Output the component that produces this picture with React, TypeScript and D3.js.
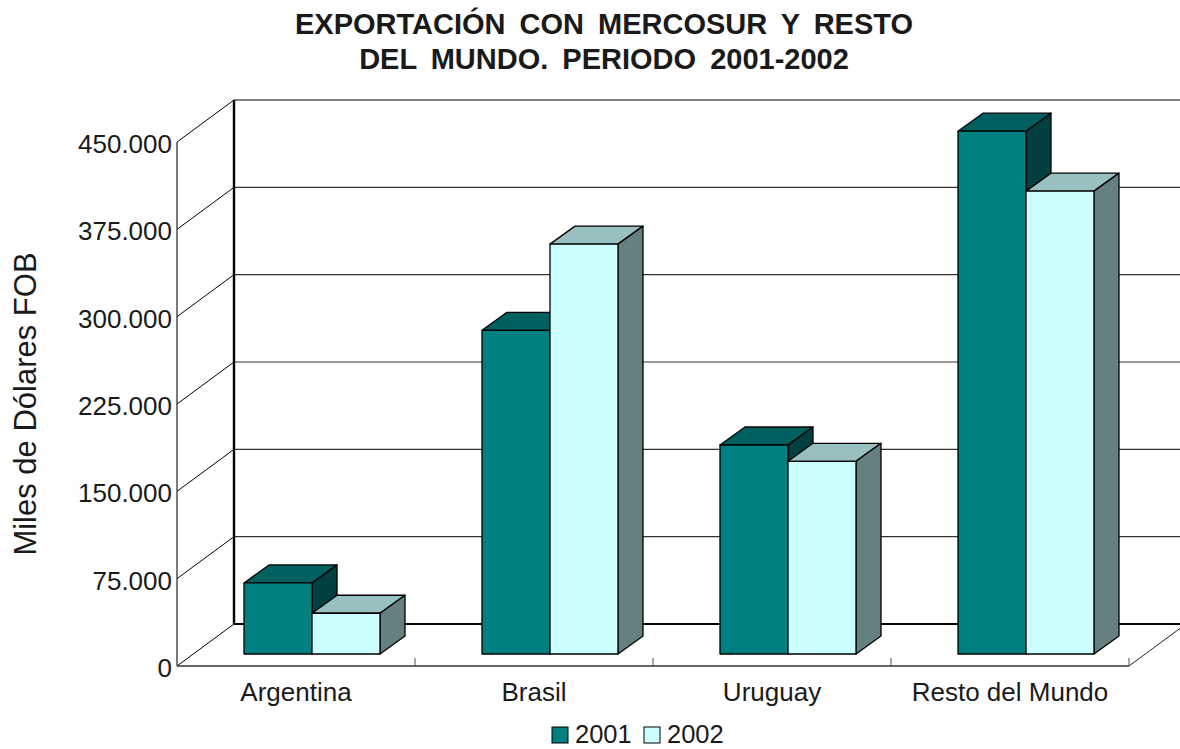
import React from 'react';
import { scaleBand, scaleLinear, range } from 'd3';

const categories = ['Argentina', 'Brasil', 'Uruguay', 'Resto del Mundo'];
const seriesNames = ['2001', '2002'];
const values2001 = [61000, 278000, 179500, 449000];
const values2002 = [35000, 352000, 165500, 397500];
const yTicks = [0, 75000, 150000, 225000, 300000, 375000, 450000];
const yTickLabels = ['0', '75.000', '150.000', '225.000', '300.000', '375.000', '450.000'];
const titleLines = ['EXPORTACIÓN CON MERCOSUR Y RESTO', 'DEL MUNDO. PERIODO 2001-2002'];

const frontColors = ['#008080', '#ccffff'];
const topColors = ['#006060', '#99c0c0'];
const sideColors = ['#004040', '#668080'];

const textFont = '"Liberation Sans", Arial, sans-serif';

// chart box, front plane
const left = 177;
const right = 1129;
const bottom = 666;
const top = 142;
// depth of the whole 3d box
const depthX = 57;
const depthY = -42;
// bars sit a bit inside the box
const barOffX = 17;
const barOffY = -12;
const barDepthX = 25;
const barDepthY = -18;

const x = scaleBand().domain(categories).range([left, right]);
const series = scaleBand().domain(seriesNames).range([0, 136]);
const y = scaleLinear().domain([0, 450000]).range([bottom, top]);

const Bar = ({ cat, s, value }: { cat: string; s: number; value: number }) => {
	const x0 = (x(cat) as number) + 50 + barOffX + (series(seriesNames[s]) as number);
	const x1 = x0 + series.bandwidth();
	const y0 = y(value) + barOffY;
	const y1 = y(0) + barOffY;
	const dx = barDepthX;
	const dy = barDepthY;
	return (
		<g stroke="#000" strokeWidth={1.3} strokeLinejoin="round">
			<polygon points={`${x0},${y0} ${x0 + dx},${y0 + dy} ${x1 + dx},${y0 + dy} ${x1},${y0}`} fill={topColors[s]} />
			<polygon points={`${x1},${y0} ${x1 + dx},${y0 + dy} ${x1 + dx},${y1 + dy} ${x1},${y1}`} fill={sideColors[s]} />
			<rect x={x0} y={y0} width={x1 - x0} height={y1 - y0} fill={frontColors[s]} />
		</g>
	);
};

export default function App() {
	return (
		<svg width={1180} height={749} style={{ position: 'absolute', left: 0, top: 0, background: '#fff' }}>
			{/* title */}
			<g fontFamily={textFont} fontWeight="bold" fontSize={29} fill="#1a1a1a" textAnchor="middle" wordSpacing={6}>
				{titleLines.map((t, i) => (
					<text key={t} x={604} y={34 + i * 34.5}>{t}</text>
				))}
			</g>

			{/* walls and gridlines */}
			{yTicks.map((t) => (
				<g key={t} stroke="#000" strokeWidth={1}>
					<line x1={left} y1={y(t)} x2={left + depthX} y2={y(t) + depthY} />
					<line x1={left + depthX} y1={y(t) + depthY} x2={1180} y2={y(t) + depthY} stroke={t === 0 || t === 450000 ? '#000' : '#333'} strokeWidth={t === 0 ? 2 : 1.2} />
				</g>
			))}
			<line x1={left + depthX} y1={top + depthY} x2={left + depthX} y2={bottom + depthY} stroke="#000" strokeWidth={2.4} />
			<line x1={left} y1={top} x2={left} y2={bottom} stroke="#222" strokeWidth={1.2} />
			<line x1={right} y1={bottom} x2={right + depthX} y2={bottom + depthY} stroke="#222" strokeWidth={1} />

			{/* front axis */}
			<line x1={left} y1={bottom} x2={right} y2={bottom} stroke="#333" strokeWidth={1.6} />
			{range(1, categories.length + 1).map((i) => {
				const tx = left + i * x.bandwidth();
				return <line key={i} x1={tx} y1={bottom} x2={tx} y2={bottom - 8} stroke="#555" strokeWidth={1} />;
			})}

			{/* bars */}
			{categories.map((c, i) => (
				<g key={c}>
					<Bar cat={c} s={0} value={values2001[i]} />
					<Bar cat={c} s={1} value={values2002[i]} />
				</g>
			))}

			{/* tick labels */}
			<g fontFamily={textFont} fontSize={26} fill="#1a1a1a">
				{yTicks.map((t, i) => (
					<text key={t} x={172} y={y(t) + 11} textAnchor="end">{yTickLabels[i]}</text>
				))}
				{categories.map((c) => (
					<text key={c} x={(x(c) as number) + x.bandwidth() / 2} y={701} textAnchor="middle">{c}</text>
				))}
				<text transform="translate(36,404) rotate(-90)" textAnchor="middle" fontSize={31}>Miles de Dólares FOB</text>
			</g>

			{/* legend */}
			{seriesNames.map((n, i) => {
				const lx = 552 + i * 92;
				return (
					<g key={n}>
						<rect x={lx} y={727} width={16} height={16} fill={frontColors[i]} stroke="#000" strokeWidth={1} />
						<text x={lx + 23} y={743} fontFamily={textFont} fontSize={25.5} fill="#1a1a1a">{n}</text>
					</g>
				);
			})}
		</svg>
	);
}
